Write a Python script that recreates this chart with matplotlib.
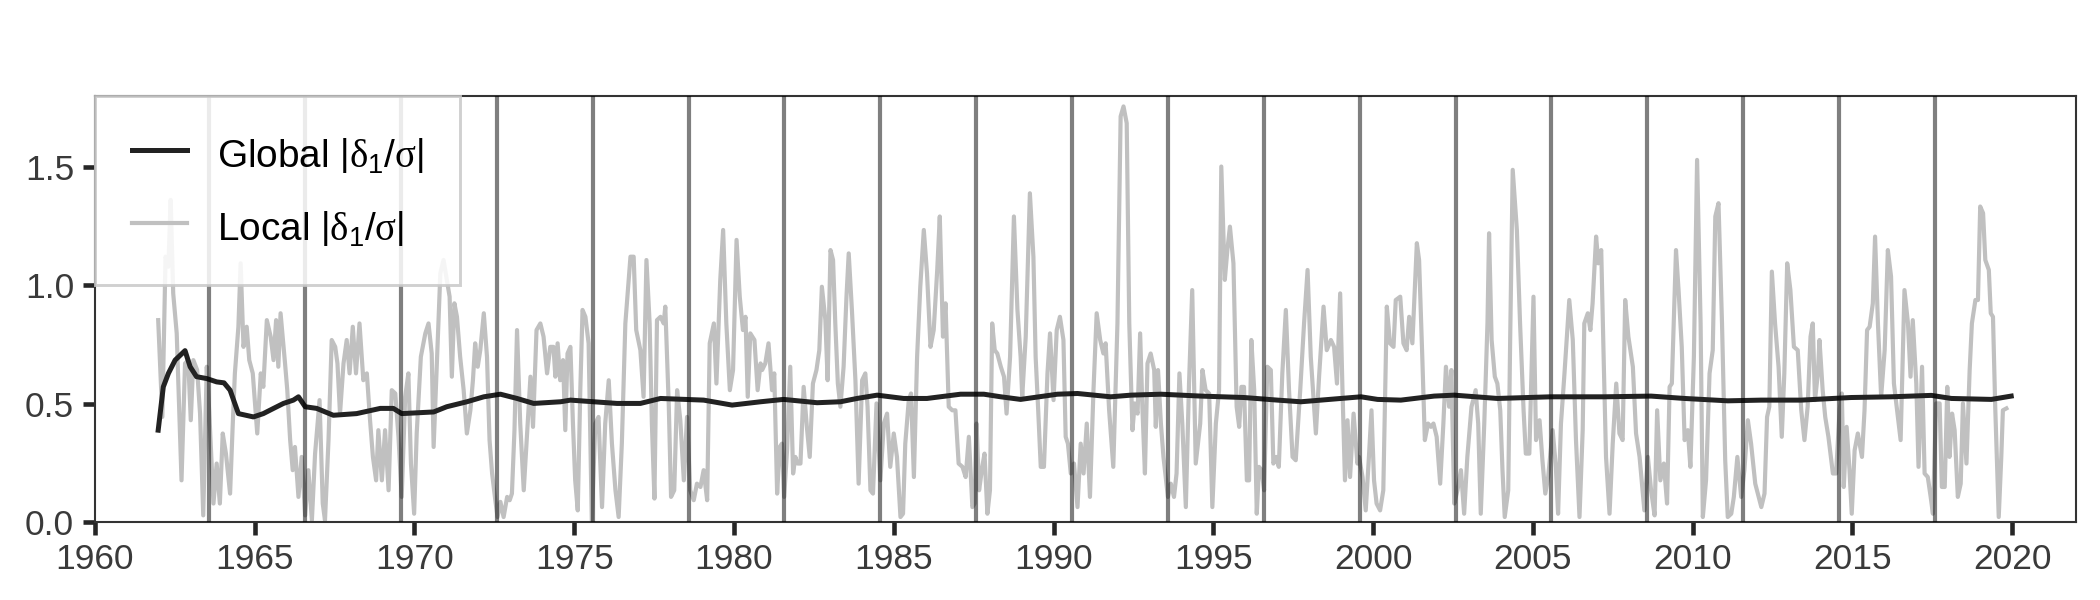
import matplotlib
matplotlib.use('Agg')
import matplotlib.pyplot as plt

matplotlib.rc('font', family='Liberation Sans', size=8.5)
matplotlib.rc('mathtext', fontset='custom', rm='Liberation Sans',
              it='Liberation Serif', bf='Liberation Sans:bold')

# local |delta_1/sigma| (decimal year, value)
local_years = [
    1961.98, 1962.11, 1962.21, 1962.30, 1962.37, 1962.45, 1962.56, 1962.71, 1962.82, 1962.92,
    1963.00, 1963.08, 1963.20, 1963.29, 1963.39, 1963.50, 1963.58, 1963.71, 1963.81, 1963.91,
    1964.00, 1964.10, 1964.23, 1964.31, 1964.38, 1964.49, 1964.56, 1964.65, 1964.75, 1964.83,
    1964.94, 1965.08, 1965.19, 1965.27, 1965.38, 1965.50, 1965.59, 1965.67, 1965.74, 1965.81,
    1965.95, 1966.02, 1966.11, 1966.19, 1966.26, 1966.37, 1966.47, 1966.58, 1966.68, 1966.79,
    1966.89, 1967.03, 1967.13, 1967.20, 1967.31, 1967.41, 1967.52, 1967.59, 1967.67, 1967.78,
    1967.88, 1967.97, 1968.07, 1968.17, 1968.28, 1968.40, 1968.51, 1968.61, 1968.70, 1968.80,
    1968.87, 1968.98, 1969.08, 1969.19, 1969.29, 1969.40, 1969.50, 1969.60, 1969.71, 1969.81,
    1969.89, 1969.99, 1970.07, 1970.20, 1970.34, 1970.44, 1970.54, 1970.60, 1970.70, 1970.81,
    1970.91, 1971.10, 1971.17, 1971.25, 1971.33, 1971.43, 1971.54, 1971.64, 1971.75, 1971.83,
    1971.90, 1971.98, 1972.06, 1972.17, 1972.27, 1972.35, 1972.43, 1972.53, 1972.60, 1972.69,
    1972.79, 1972.90, 1972.98, 1973.05, 1973.13, 1973.21, 1973.31, 1973.42, 1973.52, 1973.63,
    1973.71, 1973.82, 1973.94, 1974.04, 1974.15, 1974.25, 1974.35, 1974.41, 1974.48, 1974.56,
    1974.65, 1974.72, 1974.79, 1974.88, 1974.96, 1975.03, 1975.11, 1975.19, 1975.26, 1975.35,
    1975.45, 1975.55, 1975.66, 1975.76, 1975.87, 1975.97, 1976.08, 1976.18, 1976.29, 1976.39,
    1976.49, 1976.60, 1976.76, 1976.86, 1976.94, 1977.07, 1977.17, 1977.26, 1977.36, 1977.43,
    1977.51, 1977.59, 1977.70, 1977.80, 1977.85, 1977.96, 1978.03, 1978.13, 1978.22, 1978.32,
    1978.43, 1978.53, 1978.63, 1978.74, 1978.84, 1978.95, 1979.05, 1979.16, 1979.24, 1979.37,
    1979.45, 1979.57, 1979.66, 1979.76, 1979.87, 1979.97, 1980.08, 1980.18, 1980.28, 1980.36,
    1980.43, 1980.51, 1980.64, 1980.74, 1980.83, 1980.88, 1980.98, 1981.08, 1981.19, 1981.26,
    1981.35, 1981.43, 1981.50, 1981.57, 1981.66, 1981.76, 1981.85, 1981.92, 1981.99, 1982.08,
    1982.18, 1982.28, 1982.37, 1982.47, 1982.58, 1982.67, 1982.75, 1982.86, 1982.93, 1983.02,
    1983.10, 1983.17, 1983.25, 1983.33, 1983.43, 1983.52, 1983.59, 1983.69, 1983.80, 1983.90,
    1984.01, 1984.11, 1984.18, 1984.27, 1984.35, 1984.46, 1984.58, 1984.69, 1984.79, 1984.89,
    1985.00, 1985.10, 1985.21, 1985.29, 1985.36, 1985.47, 1985.54, 1985.63, 1985.73, 1985.83,
    1985.94, 1986.04, 1986.15, 1986.25, 1986.36, 1986.44, 1986.54, 1986.62, 1986.72, 1986.83,
    1986.93, 1987.03, 1987.15, 1987.25, 1987.35, 1987.46, 1987.53, 1987.59, 1987.67, 1987.77,
    1987.84, 1987.93, 1988.01, 1988.08, 1988.16, 1988.24, 1988.35, 1988.45, 1988.53, 1988.64,
    1988.76, 1988.87, 1988.97, 1989.02, 1989.13, 1989.26, 1989.37, 1989.44, 1989.52, 1989.60,
    1989.70, 1989.81, 1989.89, 1990.00, 1990.10, 1990.20, 1990.31, 1990.38, 1990.45, 1990.54,
    1990.64, 1990.75, 1990.85, 1990.94, 1991.04, 1991.14, 1991.25, 1991.35, 1991.46, 1991.56,
    1991.63, 1991.74, 1991.87, 1992.00, 1992.10, 1992.19, 1992.29, 1992.37, 1992.47, 1992.54,
    1992.63, 1992.71, 1992.78, 1992.86, 1992.94, 1993.04, 1993.15, 1993.20, 1993.27, 1993.36,
    1993.44, 1993.51, 1993.58, 1993.67, 1993.77, 1993.85, 1993.94, 1994.03, 1994.14, 1994.24,
    1994.34, 1994.45, 1994.59, 1994.66, 1994.76, 1994.87, 1994.97, 1995.08, 1995.18, 1995.25,
    1995.36, 1995.44, 1995.52, 1995.63, 1995.73, 1995.81, 1995.88, 1995.96, 1996.05, 1996.12,
    1996.19, 1996.28, 1996.36, 1996.43, 1996.51, 1996.59, 1996.69, 1996.80, 1996.88, 1996.97,
    1997.05, 1997.16, 1997.27, 1997.37, 1997.48, 1997.58, 1997.72, 1997.84, 1997.95, 1998.05,
    1998.21, 1998.31, 1998.45, 1998.55, 1998.68, 1998.78, 1998.87, 1998.97, 1999.04, 1999.12,
    1999.20, 1999.28, 1999.39, 1999.51, 1999.56, 1999.67, 1999.77, 1999.87, 1999.95, 2000.03,
    2000.11, 2000.22, 2000.32, 2000.43, 2000.53, 2000.64, 2000.71, 2000.85, 2000.95, 2001.05,
    2001.13, 2001.23, 2001.37, 2001.44, 2001.54, 2001.62, 2001.72, 2001.81, 2001.89, 2001.99,
    2002.10, 2002.20, 2002.28, 2002.38, 2002.45, 2002.54, 2002.64, 2002.75, 2002.85, 2002.95,
    2003.08, 2003.21, 2003.29, 2003.37, 2003.48, 2003.58, 2003.63, 2003.71, 2003.81, 2003.89,
    2003.98, 2004.05, 2004.12, 2004.23, 2004.29, 2004.37, 2004.50, 2004.60, 2004.71, 2004.78,
    2004.89, 2005.02, 2005.10, 2005.21, 2005.30, 2005.39, 2005.48, 2005.62, 2005.72, 2005.79,
    2005.88, 2005.99, 2006.14, 2006.25, 2006.35, 2006.46, 2006.56, 2006.61, 2006.72, 2006.80,
    2006.87, 2006.98, 2007.05, 2007.14, 2007.22, 2007.29, 2007.40, 2007.50, 2007.61, 2007.71,
    2007.81, 2007.89, 2007.99, 2008.13, 2008.23, 2008.34, 2008.49, 2008.60, 2008.70, 2008.81,
    2008.89, 2008.99, 2009.10, 2009.20, 2009.28, 2009.35, 2009.48, 2009.56, 2009.66, 2009.75,
    2009.85, 2009.93, 2010.04, 2010.14, 2010.25, 2010.32, 2010.42, 2010.53, 2010.63, 2010.71,
    2010.81, 2010.92, 2011.02, 2011.10, 2011.21, 2011.29, 2011.40, 2011.52, 2011.62, 2011.73,
    2011.83, 2011.96, 2012.15, 2012.25, 2012.33, 2012.40, 2012.48, 2012.58, 2012.69, 2012.79,
    2012.87, 2012.96, 2013.06, 2013.17, 2013.29, 2013.40, 2013.50, 2013.60, 2013.69, 2013.76,
    2013.83, 2013.92, 2013.97, 2014.07, 2014.15, 2014.25, 2014.39, 2014.49, 2014.60, 2014.67,
    2014.73, 2014.82, 2014.91, 2014.98, 2015.07, 2015.17, 2015.30, 2015.38, 2015.46, 2015.54,
    2015.64, 2015.71, 2015.80, 2015.90, 2016.01, 2016.11, 2016.21, 2016.30, 2016.40, 2016.51,
    2016.63, 2016.74, 2016.82, 2016.89, 2017.00, 2017.07, 2017.18, 2017.26, 2017.36, 2017.45,
    2017.52, 2017.62, 2017.73, 2017.80, 2017.89, 2017.97, 2018.04, 2018.12, 2018.20, 2018.30,
    2018.39, 2018.46, 2018.57, 2018.67, 2018.74, 2018.85, 2018.93, 2019.00, 2019.09, 2019.16,
    2019.27, 2019.33, 2019.40, 2019.47, 2019.58, 2019.66, 2019.71, 2019.82,
]
local_values = [
    0.853, 0.444, 1.121, 1.079, 1.361, 0.966, 0.797, 0.176, 0.670, 0.684,
    0.430, 0.684, 0.642, 0.458, 0.028, 0.656, 0.458, 0.078, 0.247, 0.078,
    0.374, 0.289, 0.120, 0.402, 0.628, 0.825, 1.093, 0.740, 0.825, 0.684,
    0.628, 0.374, 0.628, 0.571, 0.853, 0.783, 0.684, 0.853, 0.656, 0.882,
    0.670, 0.557, 0.346, 0.219, 0.317, 0.106, 0.275, 0.028, 0.219, 0.007,
    0.289, 0.515, 0.078, 0.007, 0.346, 0.769, 0.740, 0.670, 0.458, 0.670,
    0.769, 0.628, 0.825, 0.628, 0.839, 0.599, 0.628, 0.430, 0.275, 0.176,
    0.388, 0.176, 0.388, 0.134, 0.557, 0.543, 0.360, 0.106, 0.529, 0.628,
    0.247, 0.035, 0.374, 0.698, 0.797, 0.839, 0.712, 0.317, 0.670, 1.051,
    1.107, 0.952, 0.614, 0.924, 0.867, 0.698, 0.557, 0.374, 0.472, 0.599,
    0.755, 0.656, 0.726, 0.882, 0.698, 0.346, 0.205, 0.092, 0.021, 0.085,
    0.021, 0.106, 0.092, 0.120, 0.388, 0.811, 0.416, 0.134, 0.360, 0.614,
    0.402, 0.811, 0.839, 0.783, 0.628, 0.740, 0.740, 0.614, 0.755, 0.599,
    0.684, 0.388, 0.712, 0.740, 0.416, 0.176, 0.049, 0.557, 0.896, 0.867,
    0.755, 0.007, 0.416, 0.444, 0.063, 0.416, 0.599, 0.331, 0.134, 0.021,
    0.331, 0.839, 1.121, 1.121, 0.811, 0.726, 0.529, 1.107, 0.839, 0.416,
    0.099, 0.853, 0.867, 0.839, 0.910, 0.487, 0.106, 0.134, 0.557, 0.430,
    0.176, 0.444, 0.134, 0.092, 0.162, 0.148, 0.219, 0.092, 0.755, 0.839,
    0.585, 1.023, 1.234, 0.839, 0.557, 0.642, 1.192, 0.952, 0.811, 0.867,
    0.529, 0.797, 0.769, 0.557, 0.670, 0.642, 0.670, 0.755, 0.557, 0.628,
    0.120, 0.317, 0.331, 0.106, 0.303, 0.656, 0.205, 0.275, 0.247, 0.247,
    0.571, 0.402, 0.275, 0.585, 0.642, 0.726, 0.994, 0.853, 0.599, 1.149,
    1.107, 0.839, 0.585, 0.487, 0.656, 0.952, 1.135, 0.896, 0.599, 0.162,
    0.599, 0.628, 0.487, 0.134, 0.120, 0.501, 0.176, 0.416, 0.458, 0.233,
    0.374, 0.275, 0.021, 0.035, 0.331, 0.515, 0.543, 0.190, 0.698, 0.994,
    1.234, 1.051, 0.740, 0.811, 1.065, 1.291, 0.783, 0.924, 0.487, 0.472,
    0.472, 0.247, 0.233, 0.190, 0.360, 0.063, 0.078, 0.416, 0.134, 0.233,
    0.289, 0.035, 0.134, 0.839, 0.726, 0.712, 0.656, 0.614, 0.458, 0.698,
    1.291, 0.896, 0.698, 0.529, 0.783, 1.389, 1.121, 0.698, 0.472, 0.233,
    0.233, 0.628, 0.797, 0.515, 0.811, 0.867, 0.769, 0.360, 0.331, 0.205,
    0.247, 0.063, 0.331, 0.205, 0.416, 0.106, 0.557, 0.882, 0.769, 0.712,
    0.755, 0.472, 0.233, 0.839, 1.714, 1.756, 1.685, 0.839, 0.388, 0.501,
    0.458, 0.797, 0.487, 0.205, 0.670, 0.712, 0.642, 0.402, 0.642, 0.416,
    0.275, 0.190, 0.106, 0.162, 0.106, 0.205, 0.628, 0.416, 0.063, 0.585,
    0.980, 0.247, 0.416, 0.642, 0.557, 0.543, 0.063, 0.416, 0.557, 1.502,
    1.023, 1.149, 1.248, 1.093, 0.487, 0.402, 0.571, 0.571, 0.176, 0.176,
    0.769, 0.557, 0.035, 0.233, 0.219, 0.134, 0.656, 0.642, 0.247, 0.275,
    0.233, 0.628, 0.896, 0.557, 0.275, 0.261, 0.557, 0.839, 1.065, 0.698,
    0.374, 0.614, 0.910, 0.726, 0.769, 0.740, 0.585, 0.966, 0.571, 0.176,
    0.430, 0.190, 0.458, 0.247, 0.275, 0.190, 0.049, 0.275, 0.472, 0.176,
    0.078, 0.049, 0.134, 0.910, 0.755, 0.740, 0.938, 0.952, 0.755, 0.726,
    0.867, 0.755, 1.178, 1.107, 0.698, 0.346, 0.416, 0.402, 0.416, 0.360,
    0.162, 0.416, 0.656, 0.487, 0.642, 0.078, 0.134, 0.219, 0.035, 0.275,
    0.487, 0.557, 0.416, 0.035, 0.416, 0.839, 1.220, 0.769, 0.614, 0.585,
    0.472, 0.219, 0.021, 0.134, 0.769, 1.488, 1.234, 0.839, 0.472, 0.289,
    0.289, 0.952, 0.346, 0.430, 0.261, 0.120, 0.190, 0.388, 0.233, 0.035,
    0.416, 0.628, 0.938, 0.769, 0.346, 0.021, 0.388, 0.839, 0.882, 0.811,
    0.924, 1.206, 1.093, 1.149, 0.670, 0.275, 0.035, 0.331, 0.585, 0.374,
    0.346, 0.938, 0.783, 0.656, 0.374, 0.275, 0.049, 0.275, 0.134, 0.028,
    0.472, 0.176, 0.247, 0.078, 0.571, 0.585, 1.149, 0.980, 0.740, 0.346,
    0.388, 0.233, 0.698, 1.530, 0.839, 0.021, 0.176, 0.628, 0.726, 1.291,
    1.347, 0.839, 0.261, 0.021, 0.035, 0.106, 0.275, 0.106, 0.219, 0.430,
    0.331, 0.162, 0.063, 0.120, 0.444, 0.487, 1.058, 0.839, 0.656, 0.360,
    0.628, 1.093, 0.980, 0.740, 0.726, 0.472, 0.346, 0.487, 0.783, 0.839,
    0.515, 0.628, 0.769, 0.557, 0.444, 0.360, 0.205, 0.205, 0.472, 0.543,
    0.148, 0.402, 0.219, 0.035, 0.303, 0.374, 0.275, 0.472, 0.811, 0.825,
    0.924, 1.206, 0.839, 0.529, 0.726, 1.149, 1.037, 0.585, 0.472, 0.346,
    0.980, 0.839, 0.614, 0.853, 0.585, 0.233, 0.656, 0.205, 0.190, 0.106,
    0.035, 0.501, 0.501, 0.148, 0.148, 0.571, 0.275, 0.458, 0.388, 0.106,
    0.162, 0.501, 0.247, 0.642, 0.839, 0.938, 0.938, 1.333, 1.305, 1.107,
    1.065, 0.882, 0.867, 0.487, 0.021, 0.275, 0.472, 0.480,
]

# global |delta_1/sigma| (smooth curve)
global_years = [
    1961.98, 1962.14, 1962.30, 1962.51, 1962.82, 1962.98, 1963.18, 1963.50, 1963.81, 1964.04,
    1964.23, 1964.49, 1964.96, 1965.27, 1965.59, 1965.90, 1966.21, 1966.37, 1966.58, 1966.94,
    1967.46, 1968.19, 1968.93, 1969.34, 1969.60, 1970.60, 1971.01, 1971.64, 1972.17, 1972.69,
    1973.21, 1973.73, 1974.57, 1974.88, 1975.61, 1976.34, 1977.07, 1977.70, 1979.05, 1979.94,
    1980.83, 1981.55, 1982.60, 1983.33, 1983.85, 1984.48, 1985.31, 1986.04, 1987.09, 1987.82,
    1988.35, 1988.97, 1990.12, 1990.75, 1991.79, 1992.42, 1993.36, 1994.61, 1995.96, 1997.01,
    1997.74, 1998.99, 1999.62, 2000.14, 2000.87, 2001.91, 2002.54, 2003.89, 2005.56, 2007.24,
    2008.70, 2009.75, 2011.10, 2012.15, 2013.40, 2014.96, 2016.21, 2017.47, 2018.10, 2019.35,
    2019.97,
]
global_values = [
    0.388, 0.571, 0.628, 0.684, 0.724, 0.656, 0.614, 0.606, 0.592, 0.588,
    0.557, 0.458, 0.444, 0.458, 0.480, 0.501, 0.515, 0.529, 0.487, 0.480,
    0.451, 0.458, 0.480, 0.480, 0.458, 0.465, 0.487, 0.508, 0.529, 0.540,
    0.522, 0.501, 0.508, 0.515, 0.508, 0.501, 0.501, 0.522, 0.515, 0.494,
    0.508, 0.518, 0.504, 0.508, 0.522, 0.536, 0.522, 0.522, 0.540, 0.540,
    0.529, 0.518, 0.540, 0.543, 0.529, 0.536, 0.540, 0.532, 0.526, 0.515,
    0.508, 0.522, 0.529, 0.518, 0.515, 0.532, 0.536, 0.522, 0.529, 0.529,
    0.532, 0.522, 0.512, 0.515, 0.515, 0.526, 0.529, 0.535, 0.522, 0.518,
    0.532,
]

# vertical marker lines, every three years
break_years = [
    1963.58, 1966.58, 1969.58, 1972.58, 1975.58, 1978.58, 1981.58, 1984.58, 1987.58, 1990.58,
    1993.58, 1996.58, 1999.58, 2002.58, 2005.58, 2008.58, 2011.58, 2014.58, 2017.58,
]

x_ticks = [1960, 1965, 1970, 1975, 1980, 1985, 1990, 1995, 2000, 2005, 2010, 2015, 2020]
y_ticks = [0.0, 0.5, 1.0, 1.5]

label_global = r"Global $\left|\delta_1/\sigma\right|$"
label_local = r"Local $\left|\delta_1/\sigma\right|$"

fig = plt.figure(figsize=(7, 2), dpi=300)
ax = fig.add_axes([0.0452, 0.13, 0.9434, 0.71])

ax.plot(global_years, global_values, color='#222222', linewidth=1.2, label=label_global, zorder=3)
ax.plot(local_years, local_values, color='#c0c0c0', linewidth=1.0, label=label_local, zorder=2)
for year in break_years:
    ax.axvline(x=year, color='k', alpha=0.5, linewidth=1.0, zorder=4)

ax.set_xlim([1960, 2022])
ax.set_ylim([0, 1.8])
ax.set_xticks(x_ticks)
ax.set_yticks(y_ticks)
ax.set_yticklabels(['%.1f' % y for y in y_ticks])

for side in ax.spines:
    ax.spines[side].set_linewidth(0.5)
    ax.spines[side].set_color('#333333')
ax.tick_params(direction='out', length=3, width=1.1, color='#262626',
               labelcolor='#3a3a3a', labelsize=8.5, pad=2)

leg = ax.legend(loc='upper left', borderaxespad=0, fontsize=9.3,
                handlelength=1.42, handleheight=1.3, handletextpad=0.78,
                labelspacing=0.8, borderpad=0.95, fancybox=False, framealpha=0.85)
leg.get_frame().set_edgecolor('#c8c8c8')
leg.get_frame().set_linewidth(0.7)
leg.set_zorder(10)

plt.savefig('out.png', dpi=300)
plt.close()
